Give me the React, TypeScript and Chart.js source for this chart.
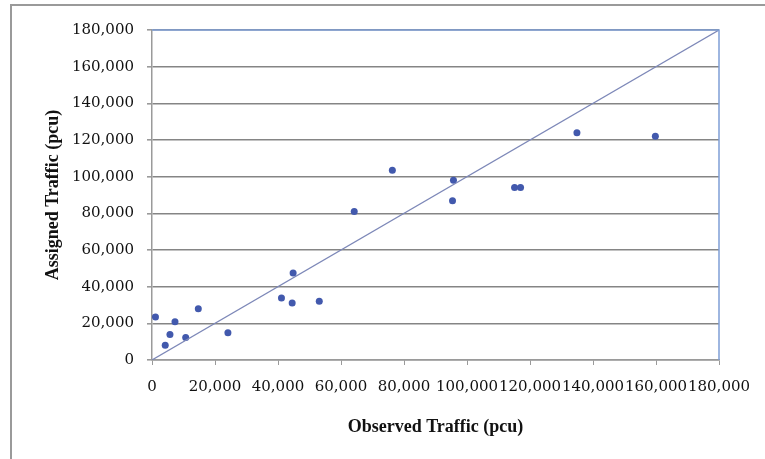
import React, { useEffect, useRef } from "react";
import { Chart, registerables } from "chart.js";

Chart.register(...registerables);

const observedTraffic = [1100, 4200, 5700, 7300, 10700, 14700, 24100, 41100, 44500, 44800, 53100, 64200, 76300, 95700, 95400, 115100, 117000, 134900, 159800];
const assignedTraffic = [23500, 8100, 13900, 20800, 12300, 27900, 14800, 33800, 31100, 47400, 32000, 81000, 103500, 98000, 86800, 94100, 94100, 123900, 122100];
const lineX = [0, 180000];
const lineY = [0, 180000];
const axisMin = 0;
const axisMax = 180000;
const axisStep = 20000;
const xTitle = "Observed Traffic (pcu)";
const yTitle = "Assigned Traffic (pcu)";

const fmt = (v: number) => v.toLocaleString("en-US");

const framePlugin = {
  id: "frame",
  afterDraw(chart: any) {
    const { ctx, chartArea } = chart;
    ctx.save();
    ctx.strokeStyle = "#7f9fd6";
    ctx.lineWidth = 1.5;
    ctx.beginPath();
    ctx.moveTo(chartArea.left, chartArea.top);
    ctx.lineTo(chartArea.right, chartArea.top);
    ctx.lineTo(chartArea.right, chartArea.bottom);
    ctx.stroke();
    ctx.restore();
  },
};

export default function App() {
  const ref = useRef<HTMLCanvasElement>(null);
  useEffect(() => {
    const points = observedTraffic.map((x, i) => ({ x, y: assignedTraffic[i] }));
    const diag = lineX.map((x, i) => ({ x, y: lineY[i] }));
    const chart = new Chart(ref.current!, {
      type: "scatter",
      data: {
        datasets: [
          {
            type: "line",
            data: diag,
            borderColor: "#7d88b8",
            borderWidth: 1.2,
            pointRadius: 0,
            fill: false,
          } as any,
          {
            data: points,
            backgroundColor: "#4259ad",
            borderColor: "#4259ad",
            pointRadius: 3.5,
            pointBorderWidth: 0,
          },
        ],
      },
      options: {
        animation: false,
        responsive: false,
        layout: { padding: { top: 30, right: 46, left: 0, bottom: 0 } },
        plugins: { legend: { display: false }, tooltip: { enabled: false } },
        scales: {
          x: {
            type: "linear",
            min: axisMin,
            max: axisMax,
            afterFit: (s: any) => { s.height = 99; },
            ticks: {
              stepSize: axisStep,
              callback: (v: any) => fmt(Number(v)),
              font: { family: "DejaVu Serif", size: 15 },
              color: "#111",
              maxRotation: 0,
              autoSkip: false,
              padding: 13,
            },
            grid: { drawOnChartArea: false, drawTicks: true, tickLength: 5, color: "#9a9a9a" },
            border: { color: "#9a9a9a", width: 1.5 },
            title: {
              display: true,
              text: xTitle,
              font: { family: "Liberation Serif", size: 18, weight: "bold" },
              color: "#111",
              padding: { top: 0, bottom: 21 },
            },
          },
          y: {
            type: "linear",
            min: axisMin,
            max: axisMax,
            afterFit: (s: any) => { s.width = 152; },
            ticks: {
              stepSize: axisStep,
              callback: (v: any) => fmt(Number(v)),
              font: { family: "DejaVu Serif", size: 15 },
              color: "#111",
              padding: 13,
            },
            grid: { color: "#858585", lineWidth: 1.6, tickLength: 5, tickColor: "#9a9a9a" },
            border: { color: "#9a9a9a", width: 1.5 },
            title: {
              display: true,
              text: yTitle,
              font: { family: "Liberation Serif", size: 18, weight: "bold" },
              color: "#111",
              padding: { top: 43, bottom: 0 },
            },
          },
        },
      },
      plugins: [framePlugin],
    });
    return () => chart.destroy();
  }, []);
  return (
    <div style={{ position: "fixed", left: 0, top: 0, width: 765, height: 459, background: "#fff" }}>
      <canvas ref={ref} width={765} height={459} style={{ position: "absolute", left: 0, top: 0 }} />
      <div style={{ position: "absolute", left: 10, top: 4, width: 755, height: 455, borderTop: "2px solid #9a9a9a", borderLeft: "2px solid #9a9a9a", pointerEvents: "none" }} />
    </div>
  );
}
